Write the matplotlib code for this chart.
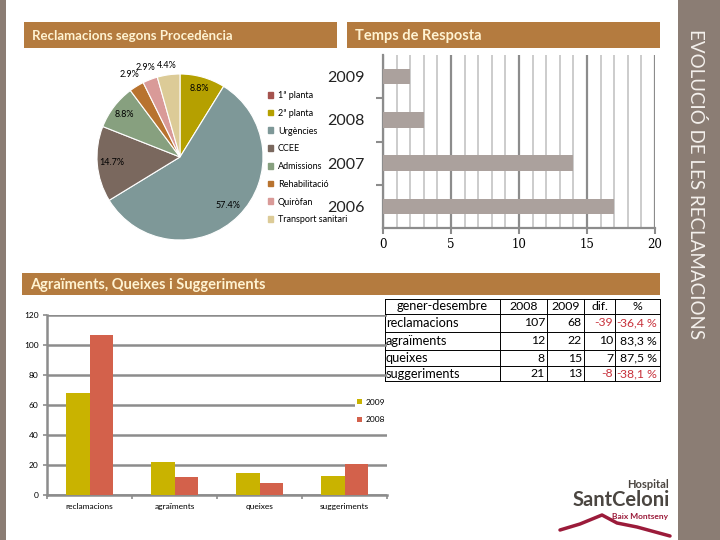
import matplotlib
matplotlib.use('Agg')
import matplotlib.pyplot as plt
from matplotlib.patches import Rectangle, Patch
import numpy as np

# ---------------- data ----------------
pie_labels = ['1ª planta', '2ª planta', 'Urgències', 'CCEE', 'Admissions',
              'Rehabilitació', 'Quiròfan', 'Transport sanitari']
pie_pct = [0.0, 8.8, 57.4, 14.7, 8.8, 2.9, 2.9, 4.4]
pie_colors = ['#A5534E', '#B5A000', '#7E9898', '#7A685E', '#87A07F',
              '#B8732F', '#D99A98', '#DCCB97']

resp_years = ['2009', '2008', '2007', '2006']
resp_values = [2, 3, 14, 17]

categories = ['reclamacions', 'agraïments', 'queixes', 'suggeriments']
vals_2009 = [68, 22, 15, 13]
vals_2008 = [107, 12, 8, 21]

table_header = ['gener-desembre', '2008', '2009', 'dif.', '%']
table_rows = ['reclamacions', 'agraïments', 'queixes', 'suggeriments']
tab_2008 = [107, 12, 8, 21]
tab_2009 = [68, 22, 15, 13]
tab_dif = [-39, 10, 7, -8]
tab_pct = [-36.4, 83.3, 87.5, -38.1]

# ---------------- layout helpers ----------------
W, H = 720, 540
FONT = 'Lato'
BANNER = '#B47B3F'
BANNER_TXT = '#FFF3D2'
STRIP = '#8B7D74'
GRID = '#8C8C8C'

fig = plt.figure(figsize=(7.2, 5.4), dpi=100)
fig.patch.set_facecolor('white')


def ax_px(x0, y0, x1, y1, **kw):
    return fig.add_axes([x0 / W, 1 - y1 / H, (x1 - x0) / W, (y1 - y0) / H], **kw)


# background / decoration layer in pixel coordinates
bg = ax_px(0, 0, W, H)
bg.set_xlim(0, W)
bg.set_ylim(H, 0)
bg.axis('off')
bg.set_zorder(0)

bg.add_patch(Rectangle((0, 0), 6, H, color=STRIP, lw=0))
bg.add_patch(Rectangle((678, 0), 42, H, color=STRIP, lw=0))
bg.text(696, 184, 'EVOLUCIÓ DE LES RECLAMACIONS', rotation=-90, ha='center', va='center',
        color='#F4F0EC', fontsize=13.5, family=FONT)

for (x0, y0, x1, y1, txt, fs) in [(24, 22, 337, 48, 'Reclamacions segons Procedència', 9.5),
                                   (347, 22, 660, 48, 'Temps de Resposta', 10.5),
                                   (22, 273, 660, 295, 'Agraïments, Queixes i Suggeriments', 10.5)]:
    bg.add_patch(Rectangle((x0, y0), x1 - x0, y1 - y0, color=BANNER, lw=0))
    bg.text(x0 + 8, (y0 + y1) / 2 + 1, txt, ha='left', va='center', color=BANNER_TXT,
            fontsize=fs, fontweight='bold', family=FONT)

# logo
bg.text(669, 484, 'Hospital', ha='right', va='center', fontsize=8, fontweight='bold',
        color='#4B4641', family=FONT)
bg.text(670, 500, 'SantCeloni', ha='right', va='center', fontsize=14.5, fontweight='bold',
        color='#4B4641', family=FONT)
bg.text(668, 517, 'Baix Montseny', ha='right', va='center', fontsize=6, fontweight='bold',
        color='#9B1B3A', family=FONT)
bg.plot([560, 580, 602, 617, 637, 670], [530, 524, 515, 523, 527, 536],
        color='#9B1B3A', lw=2.5, solid_capstyle='round')

# ---------------- table ----------------
col_x = [385, 500, 547, 584, 615, 660]
row_y = [299, 314, 332, 350, 366, 381]
for y in row_y:
    bg.plot([col_x[0], col_x[-1]], [y, y], color='black', lw=0.7)
for x in col_x:
    bg.plot([x, x], [row_y[0], row_y[-1]], color='black', lw=0.7)
RED = '#C8323C'
tfs = 9.2
nfs = 8.8


def cy(i):
    return (row_y[i] + row_y[i + 1]) / 2


bg.text((col_x[0] + col_x[1]) / 2, cy(0), table_header[0], ha='center', va='center', fontsize=tfs, family=FONT)
for j in range(1, 5):
    bg.text((col_x[j] + col_x[j + 1]) / 2, cy(0), table_header[j], ha='center', va='center',
            fontsize=nfs, family=FONT)
for i, name in enumerate(table_rows):
    y = cy(i + 1)
    bg.text(col_x[0] + 1, y, name, ha='left', va='center', fontsize=tfs, family=FONT)
    bg.text(col_x[2] - 2, y, str(tab_2008[i]), ha='right', va='center', fontsize=nfs, family=FONT)
    bg.text(col_x[3] - 2, y, str(tab_2009[i]), ha='right', va='center', fontsize=nfs, family=FONT)
    c = RED if tab_dif[i] < 0 else 'black'
    bg.text(col_x[4] - 2, y, str(tab_dif[i]), ha='right', va='center', fontsize=nfs, family=FONT, color=c)
    pv = tab_pct[i]
    if pv < 0:
        bg.text(col_x[4] + 1, y, '-', ha='left', va='center', fontsize=nfs, family=FONT, color=c)
    bg.text(col_x[5] - 3, y, f'{abs(pv):.1f} %'.replace('.', ','), ha='right', va='center',
            fontsize=nfs, family=FONT, color=c)

# ---------------- pie ----------------
axp = ax_px(97, 74, 263, 240)
vals = [v for v in pie_pct if v > 0]
cols = [c for v, c in zip(pie_pct, pie_colors) if v > 0]
wedges, _ = axp.pie(vals, colors=cols, startangle=90, counterclock=False,
                    wedgeprops=dict(edgecolor='white', linewidth=0.8))
axp.set_xlim(-1, 1)
axp.set_ylim(-1, 1)
axp.set_aspect('equal')
label_r = [0.86, 0.82, 0.82, 0.84, 1.16, 1.15, 1.11]
for w, v, r in zip(wedges, vals, label_r):
    mid = np.deg2rad((w.theta1 + w.theta2) / 2)
    axp.text(r * np.cos(mid), r * np.sin(mid), f'{v:.1f}%', ha='center', va='center',
             fontsize=6.5, family=FONT, color='black')

fig.legend([Patch(color=c) for c in pie_colors], pie_labels, loc='upper left',
           bbox_to_anchor=(268 / W, 1 - 91 / H), frameon=False,
           prop={'family': FONT, 'size': 6.5}, handlelength=0.6, handleheight=0.6,
           labelspacing=0.97, handletextpad=0.5, borderaxespad=0, borderpad=0)

# ---------------- temps de resposta ----------------
axr = ax_px(383, 55, 655, 228)
ypos = np.arange(len(resp_years))[::-1]
axr.barh(ypos, resp_values, height=0.36, color='#ABA19D', zorder=3)
axr.set_xlim(0, 20)
axr.set_ylim(-0.5, 3.5)
axr.set_xticks([0, 5, 10, 15, 20])
axr.set_xticks(range(21), minor=True)
axr.grid(axis='x', which='minor', color='#C8C8C8', lw=1.3)
axr.grid(axis='x', which='major', color='#8C8C8C', lw=1.6)
axr.set_axisbelow(True)
axr.set_yticks(ypos, resp_years)
axr.set_yticks([0.5, 1.5, 2.5], minor=True)
axr.tick_params(axis='y', which='major', length=0, pad=13, labelsize=11.5, labelcolor='#222222')
axr.tick_params(axis='y', which='minor', length=5, color='#8C8C8C', width=1.5)
axr.tick_params(axis='x', which='major', length=4, color='#8C8C8C', width=1.5, labelsize=8.5)
axr.tick_params(axis='x', which='minor', length=0)
for lab in axr.get_yticklabels():
    lab.set_family(FONT)
for lab in axr.get_xticklabels():
    lab.set_family('DejaVu Serif')
for s in ['top', 'right']:
    axr.spines[s].set_visible(False)
for s in ['left', 'bottom']:
    axr.spines[s].set_color('#8C8C8C')
    axr.spines[s].set_linewidth(1.6)

# ---------------- agraïments, queixes, suggeriments ----------------
axb = ax_px(47, 315, 387, 495)
axb.patch.set_alpha(0)
x = np.arange(len(categories))
bw = 0.28
axb.bar(x - bw / 2, vals_2009, bw, color='#C9B300', label='2009', zorder=3)
axb.bar(x + bw / 2, vals_2008, bw, color='#D3614B', label='2008', zorder=3)
axb.set_xlim(-0.5, len(categories) - 0.5)
axb.set_ylim(0, 120)
axb.set_yticks(range(0, 121, 20))
axb.grid(axis='y', color=GRID, lw=1.8)
axb.set_axisbelow(True)
axb.set_xticks(x, categories)
axb.set_xticks(np.arange(-0.5, len(categories), 1.0), minor=True)
axb.tick_params(axis='x', which='major', length=0, labelsize=6, pad=6)
axb.tick_params(axis='x', which='minor', length=3, color=GRID, width=1.2)
axb.tick_params(axis='y', length=3, color=GRID, width=1.2, labelsize=6, pad=3)
for lab in axb.get_xticklabels() + axb.get_yticklabels():
    lab.set_family(FONT)
for s in ['top', 'right']:
    axb.spines[s].set_visible(False)
for s in ['left', 'bottom']:
    axb.spines[s].set_color(GRID)
    axb.spines[s].set_linewidth(1.8)
leg = axb.legend(loc='center right', bbox_to_anchor=(1.0, 0.467), frameon=True,
                 facecolor='white', edgecolor='none', framealpha=1,
                 prop={'family': FONT, 'size': 6}, handlelength=0.6, handleheight=0.6,
                 labelspacing=1.3, handletextpad=0.5, borderpad=0.2, borderaxespad=0)

fig.savefig('out.png', dpi=100, facecolor='white')
